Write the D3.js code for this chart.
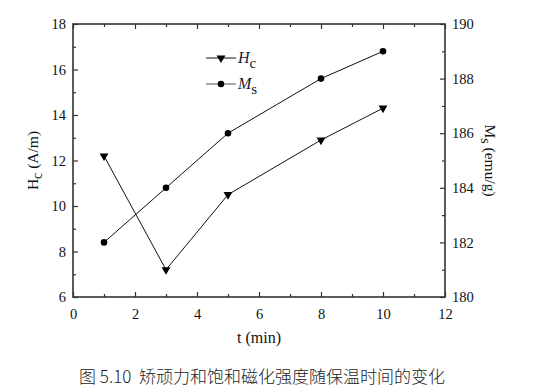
<!DOCTYPE html>
<html>
<head>
<meta charset="utf-8">
<script src="https://cdn.jsdelivr.net/npm/d3@7"></script>
<style>
  body { margin: 0; background: #fff; }
</style>
</head>
<body>
<div id="chart"></div>
<script>
// Data
var times = [1, 3, 5, 8, 10];
var hcValues = [12.2, 7.2, 10.5, 12.9, 14.3];
var msValues = [182, 184, 186, 188, 189];
var xTicks = [0, 2, 4, 6, 8, 10, 12];
var hcTicks = [6, 8, 10, 12, 14, 16, 18];
var msTicks = [180, 182, 184, 186, 188, 190];

var serif = "'Liberation Serif', 'Times New Roman', 'DejaVu Serif', serif";

// Chart parameters
var properties = {
    width: 548,
    height: 392,
    margin: { top: 24, right: 103, bottom: 95, left: 73 }
};
var chartDimensions = {
    width: properties.width - properties.margin.left - properties.margin.right,
    height: properties.height - properties.margin.top - properties.margin.bottom
};

var svg = d3.select("#chart")
    .append("svg")
    .attr("width", properties.width)
    .attr("height", properties.height)
    .style("font-family", serif);

var chartContent = svg.append("g")
    .attr("transform", "translate(" + properties.margin.left + "," + properties.margin.top + ")");

// Scales
var xScale = d3.scaleLinear().domain([0, 12]).range([0, chartDimensions.width]);
var yLeft = d3.scaleLinear().domain([6, 18]).range([chartDimensions.height, 0]);
var yRight = d3.scaleLinear().domain([180, 190]).range([chartDimensions.height, 0]);

var axisColor = "#333";
var fontSize = 14.5;

// Helper to style axes: inward ticks, serif labels
function styleAxis(g) {
    g.attr("font-family", null);
    g.select(".domain").remove();
    g.selectAll("line").attr("stroke", axisColor).attr("stroke-width", 1.2);
    g.selectAll("text")
        .style("font-family", serif)
        .attr("font-size", fontSize)
        .attr("fill", "#111");
}

// Minor ticks (odd values)
var xMinor = d3.range(1, 12, 2);
var hcMinor = d3.range(7, 18, 2);
var msMinor = d3.range(181, 190, 2);

// Bottom axis
chartContent.append("g")
    .attr("transform", "translate(0," + chartDimensions.height + ")")
    .call(d3.axisBottom(xScale).tickValues(xTicks).tickSize(-5).tickPadding(12).tickFormat(d3.format("d")))
    .call(styleAxis);
chartContent.append("g")
    .attr("transform", "translate(0," + chartDimensions.height + ")")
    .call(d3.axisBottom(xScale).tickValues(xMinor).tickSize(-3).tickFormat(""))
    .call(styleAxis);

// Top axis (ticks only)
chartContent.append("g")
    .call(d3.axisTop(xScale).tickValues(xTicks).tickSize(-5).tickFormat(""))
    .call(styleAxis);
chartContent.append("g")
    .call(d3.axisTop(xScale).tickValues(xMinor).tickSize(-3).tickFormat(""))
    .call(styleAxis);

// Left axis
chartContent.append("g")
    .call(d3.axisLeft(yLeft).tickValues(hcTicks).tickSize(-5).tickPadding(7).tickFormat(d3.format("d")))
    .call(styleAxis);
chartContent.append("g")
    .call(d3.axisLeft(yLeft).tickValues(hcMinor).tickSize(-3).tickFormat(""))
    .call(styleAxis);

// Right axis
chartContent.append("g")
    .attr("transform", "translate(" + chartDimensions.width + ",0)")
    .call(d3.axisRight(yRight).tickValues(msTicks).tickSize(-5).tickPadding(7).tickFormat(d3.format("d")))
    .call(styleAxis);
chartContent.append("g")
    .attr("transform", "translate(" + chartDimensions.width + ",0)")
    .call(d3.axisRight(yRight).tickValues(msMinor).tickSize(-3).tickFormat(""))
    .call(styleAxis);

// Frame
chartContent.append("rect")
    .attr("width", chartDimensions.width)
    .attr("height", chartDimensions.height)
    .attr("fill", "none")
    .attr("stroke", axisColor)
    .attr("stroke-width", 1.6);

// Data lines
var hcData = times.map(function (t, i) { return { t: t, v: hcValues[i] }; });
var msData = times.map(function (t, i) { return { t: t, v: msValues[i] }; });

var hcLine = d3.line().x(function (d) { return xScale(d.t); }).y(function (d) { return yLeft(d.v); });
var msLine = d3.line().x(function (d) { return xScale(d.t); }).y(function (d) { return yRight(d.v); });

chartContent.append("path").datum(hcData)
    .attr("d", hcLine).attr("fill", "none").attr("stroke", "#111").attr("stroke-width", 1);
chartContent.append("path").datum(msData)
    .attr("d", msLine).attr("fill", "none").attr("stroke", "#111").attr("stroke-width", 1);

var triangle = d3.symbol().type(d3.symbolTriangle).size(34);
var circle = d3.symbol().type(d3.symbolCircle).size(34);

chartContent.selectAll(".hc-marker")
    .data(hcData).enter()
    .append("path")
    .attr("class", "hc-marker")
    .attr("d", triangle)
    .attr("fill", "#000")
    .attr("transform", function (d) { return "translate(" + xScale(d.t) + "," + yLeft(d.v) + ") rotate(180)"; });

chartContent.selectAll(".ms-marker")
    .data(msData).enter()
    .append("path")
    .attr("class", "ms-marker")
    .attr("d", circle)
    .attr("fill", "#000")
    .attr("transform", function (d) { return "translate(" + xScale(d.t) + "," + yRight(d.v) + ")"; });

// Legend
var legendItems = [
    { name: "H", sub: "c", symbol: triangle, rot: 180 },
    { name: "M", sub: "s", symbol: circle, rot: 0 }
];
var legend = chartContent.selectAll(".legend-item")
    .data(legendItems).enter()
    .append("g")
    .attr("class", "legend-item")
    .attr("transform", function (d, i) { return "translate(133," + (34 + i * 26) + ")"; });

legend.append("line")
    .attr("x1", 0).attr("x2", 30).attr("y1", 0).attr("y2", 0)
    .attr("stroke", function (d, i) { return i === 0 ? "#111" : "#555"; })
    .attr("stroke-width", 1);
legend.append("path")
    .attr("d", function (d) { return d.symbol(); })
    .attr("fill", "#000")
    .attr("transform", function (d) { return "translate(15,0) rotate(" + d.rot + ")"; });
var legendText = legend.append("text")
    .attr("x", 32)
    .attr("y", 5)
    .attr("font-size", 16)
    .attr("fill", "#1a1a2e");
legendText.append("tspan").attr("font-style", "italic").text(function (d) { return d.name; });
legendText.append("tspan").attr("dy", 5).attr("font-size", 15).text(function (d) { return d.sub; });

// Axis titles
var leftTitle = svg.append("text")
    .attr("transform", "translate(38," + (properties.margin.top + chartDimensions.height / 2) + ") rotate(-90)")
    .attr("text-anchor", "middle")
    .attr("font-size", 15.5)
    .attr("fill", "#111");
leftTitle.append("tspan").text("H");
leftTitle.append("tspan").attr("dy", 4).attr("font-size", 14).text("c");
leftTitle.append("tspan").attr("dy", -4).text(" (A/m)");

var rightTitle = svg.append("text")
    .attr("transform", "translate(485," + (properties.margin.top + chartDimensions.height / 2) + ") rotate(90)")
    .attr("text-anchor", "middle")
    .attr("font-size", 15.5)
    .attr("fill", "#111");
rightTitle.append("tspan").text("M");
rightTitle.append("tspan").attr("dy", 4).attr("font-size", 14).text("s");
rightTitle.append("tspan").attr("dy", -4).text(" (emu/g)");

svg.append("text")
    .attr("x", properties.margin.left + chartDimensions.width / 2)
    .attr("y", 343)
    .attr("text-anchor", "middle")
    .attr("font-size", 16)
    .attr("fill", "#111")
    .text("t (min)");

// Caption
svg.append("text")
    .attr("x", 262)
    .attr("y", 383)
    .attr("text-anchor", "middle")
    .attr("font-size", 17)
    .attr("xml:space", "preserve")
    .style("white-space", "pre")
    .style("font-family", "'Noto Sans CJK SC', sans-serif")
    .attr("font-weight", 300)
    .attr("fill", "#222")
    .text("图 5.10  矫顽力和饱和磁化强度随保温时间的变化");
</script>
</body>
</html>
